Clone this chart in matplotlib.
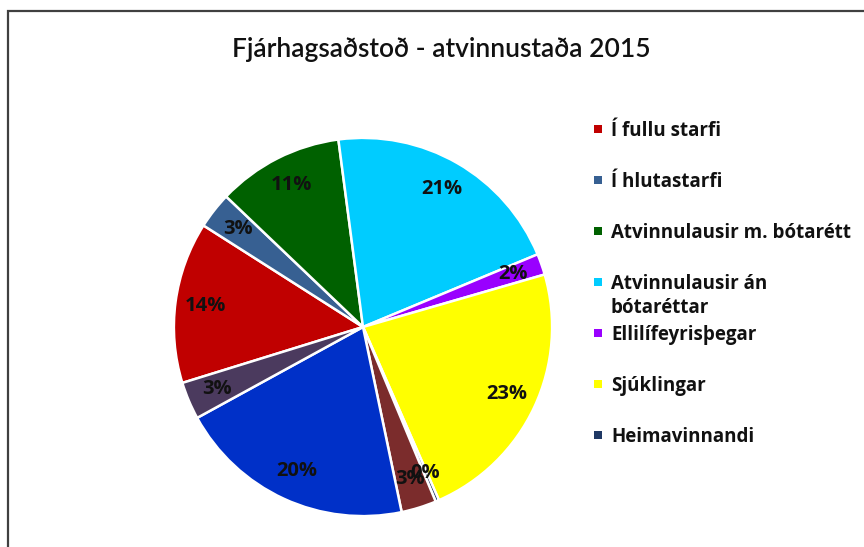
import matplotlib
matplotlib.use("Agg")
import matplotlib.pyplot as plt
from matplotlib.patches import Rectangle

title = "Fjárhagsaðstoð - atvinnustaða 2015"
categories = ["Í fullu starfi", "Í hlutastarfi", "Atvinnulausir m. bótarétt",
              "Atvinnulausir án\nbótaréttar", "Ellilífeyrisþegar", "Sjúklingar",
              "Heimavinnandi", "Flokkur 8", "Flokkur 9", "Flokkur 10"]
values = [13.8, 3.1, 10.8, 20.8, 1.8, 22.9, 0.3, 3.0, 20.3, 3.2]
colors = ["#C00000", "#376092", "#006100", "#00CCFF", "#9900FF", "#FFFF00",
          "#1F3864", "#7B2C2C", "#0030C8", "#4B3A5E"]
n_legend = 7

W, H = 864, 547
fig = plt.figure(figsize=(W / 100, H / 100), dpi=100)
fig.patch.set_facecolor("white")

# chart border (cropped at right and bottom)
fig.add_artist(Rectangle((8 / W, -0.1), 1.2, 1 - 11 / H + 0.1, transform=fig.transFigure,
                         fill=False, edgecolor="#404040", linewidth=1.6))

fig.text(441 / W, 1 - 57 / H, title, ha="center", va="baseline",
         fontsize=19, family="Lato", fontweight="semibold", color="#111111")

cx, cy, r = 363, 327, 191
ax = fig.add_axes([(cx - r) / W, (H - cy - r) / H, 2 * r / W, 2 * r / H])
wedges, texts, autotexts = ax.pie(
    values, colors=colors, startangle=197.2, counterclock=False, radius=1,
    autopct=lambda p: f"{p:.0f}%", pctdistance=0.84,
    wedgeprops=dict(edgecolor="white", linewidth=1.8),
    textprops=dict(fontsize=14.5, family="Open Sans", fontweight="bold", color="#111111"))
ax.set_xlim(-1.01, 1.01)
ax.set_ylim(-1.01, 1.01)
ax.set_aspect("equal")
ax.axis("off")

# legend
y0, dy, line_step = 129, 51, 24
for i in range(n_legend):
    yc = y0 + i * dy
    fig.add_artist(Rectangle((594 / W, 1 - (yc + 4) / H), 8 / W, 8 / H,
                             transform=fig.transFigure, facecolor=colors[i],
                             edgecolor="none"))
    for j, line in enumerate(categories[i].split("\n")):
        fig.text(611 / W, 1 - (yc + 7 + j * line_step) / H, line, ha="left",
                 va="baseline", fontsize=13.5, family="Open Sans",
                 fontweight="bold", color="#111111")

fig.savefig("out.png", dpi=100)
